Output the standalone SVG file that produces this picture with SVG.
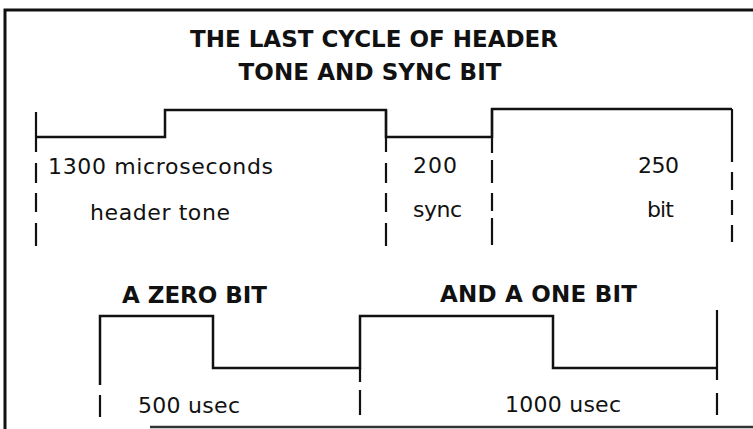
<svg xmlns="http://www.w3.org/2000/svg" width="753" height="429" viewBox="0 0 753 429">
<style>
.frame{fill:none;stroke:#111;stroke-width:3}
.wave{fill:none;stroke:#111;stroke-width:2.5;stroke-linejoin:miter}
.tick{fill:none;stroke:#111;stroke-width:2.2}
.title{font-family:"DejaVu Sans",sans-serif;font-weight:bold;font-size:23px;fill:#111}
.lbl{font-family:"DejaVu Sans",sans-serif;font-size:22px;fill:#111}
</style>
<rect width="753" height="429" fill="#fff"/>
<g id="frame">
<path class="frame" d="M5,429 V10 H753"/>
<path d="M150,427 H753" fill="none" stroke="#333" stroke-width="2.5"/>
</g>
<g id="titles">
<text class="title" x="374" y="47" text-anchor="middle" textLength="368">THE LAST CYCLE OF HEADER</text>
<text class="title" x="370" y="80" text-anchor="middle" textLength="263">TONE AND SYNC BIT</text>
<text class="title" x="122" y="303" textLength="145">A ZERO BIT</text>
<text class="title" x="440" y="302" textLength="197">AND A ONE BIT</text>
</g>
<g id="connectors">
<path class="wave" d="M36,137 H165 V110 H386 V137 H492 V109 H732"/>
<path class="tick" d="M36,112 V152 M36,163 V183 M36,193 V212 M36,223 V246"/>
<path class="tick" d="M386,110 V152 M386,163 V183 M386,193 V212 M386,223 V246"/>
<path class="tick" d="M492,109 V153 M492,160 V183 M492,193 V211 M492,218 V245"/>
<path class="tick" d="M732,109 V162 M732,172 V190 M732,200 V215 M732,225 V242"/>
<path class="wave" d="M100,385 V316 H213 V368 H360 V316 H553 V368 H717"/>
<path class="tick" d="M100,395 V417"/>
<path class="tick" d="M360,368 V382 M360,390 V415"/>
<path class="tick" d="M717,310 V380 M717,393 V415"/>
</g>
<g id="labels">
<text class="lbl" x="48" y="174" textLength="225">1300 microseconds</text>
<text class="lbl" x="90" y="220" textLength="140">header tone</text>
<text class="lbl" x="413" y="173" textLength="44">200</text>
<text class="lbl" x="413" y="217" textLength="49">sync</text>
<text class="lbl" x="638" y="173" textLength="41">250</text>
<text class="lbl" x="647" y="217" textLength="27">bit</text>
<text class="lbl" x="138" y="413" textLength="102">500 usec</text>
<text class="lbl" x="505" y="412" textLength="116">1000 usec</text>
</g>
</svg>
